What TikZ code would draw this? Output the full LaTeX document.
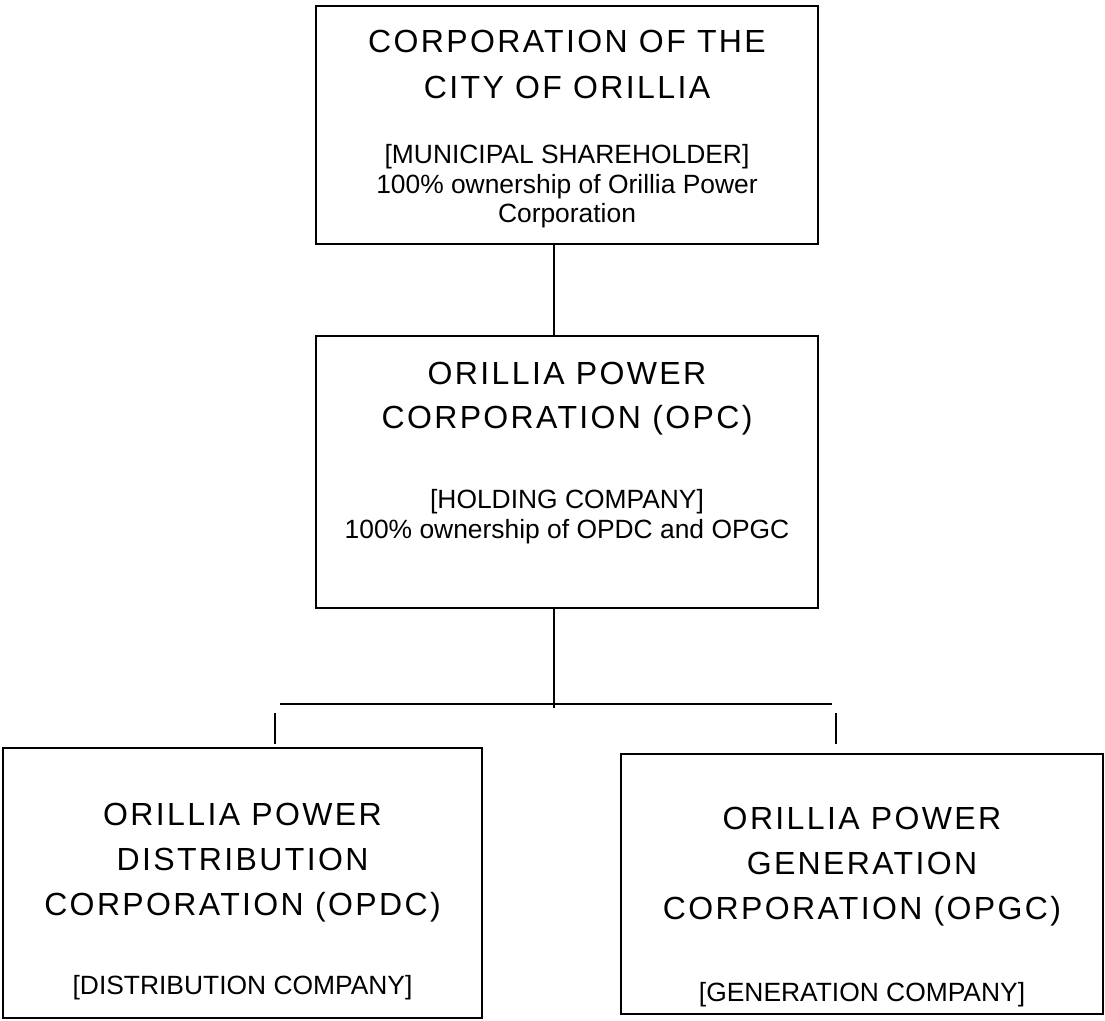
\documentclass[tikz,border=0pt]{standalone}
\usepackage{fontspec}
\setmainfont{Liberation Sans}
\newfontfamily\ttlfamily[LetterSpace=7.4]{Liberation Sans}
\newcommand\ttl{\ttlfamily\fontsize{24}{24}\selectfont}
\newcommand\bodyfont{\fontsize{19.8}{22.2}\selectfont\lineskiplimit=-\maxdimen}
\usetikzlibrary{positioning}

\tikzset{
  orgbox/.style={draw, line width=1.5pt, align=center, inner sep=0pt, font=\bodyfont},
  link/.style={line width=1.2pt},
}

\begin{document}
\begin{tikzpicture}[x=0.75pt, y=-0.75pt, node distance=67.5pt]
        \useasboundingbox (0,0) rectangle (1105,1020);

        \node[orgbox, anchor=north, minimum width=376.5pt, text height=162.5pt, text depth=16pt] (city) at (567,5)
          {\ttl CORPORATION OF THE\\[12.3pt]\ttl CITY OF ORILLIA\\[26.55pt][MUNICIPAL SHAREHOLDER]\\100\% ownership of Orillia Power\\Corporation};
        \node[orgbox, below=of city, minimum width=376.5pt, text height=151.5pt, text depth=52.5pt] (opc)
          {\ttl ORILLIA POWER\\[10.8pt]\ttl CORPORATION (OPC)\\[37.8pt][HOLDING COMPANY]\\100\% ownership of OPDC and OPGC};
        \node[orgbox, anchor=north, minimum width=359.25pt, text height=184.5pt, text depth=18pt] (opdc) at (242.5,747)
          {\ttl ORILLIA POWER\\[11.55pt]\ttl DISTRIBUTION\\[11.55pt]\ttl CORPORATION (OPDC)\\[37.05pt][DISTRIBUTION COMPANY]};
        \node[orgbox, anchor=north, minimum width=361.5pt, text height=185.25pt, text depth=9.75pt] (opgc) at (862,753)
          {\ttl ORILLIA POWER\\[11.2pt]\ttl GENERATION\\[11.2pt]\ttl CORPORATION (OPGC)\\[39.3pt][GENERATION COMPANY]};

        % the branch is a bit left of the box centre, as in the original chart
        \coordinate (split) at (554,704);
        \coordinate (brl) at (280,704);
        \coordinate (brr) at (832,704);
        \coordinate (tickl) at (275,713);
        \coordinate (tickr) at (836,713);

        \draw[link] (city.south -| split) -- (opc.north -| split);
        \draw[link] (opc.south -| split) -- ([yshift=-3pt]split);
        \draw[line width=1pt] (brl) -- (brr);
        \draw[line width=1.5pt, shorten >=2pt] (tickl) -- (tickl |- opdc.north);
        \draw[line width=1.5pt, shorten >=7pt] (tickr) -- (tickr |- opgc.north);
      \end{tikzpicture}
\end{document}
